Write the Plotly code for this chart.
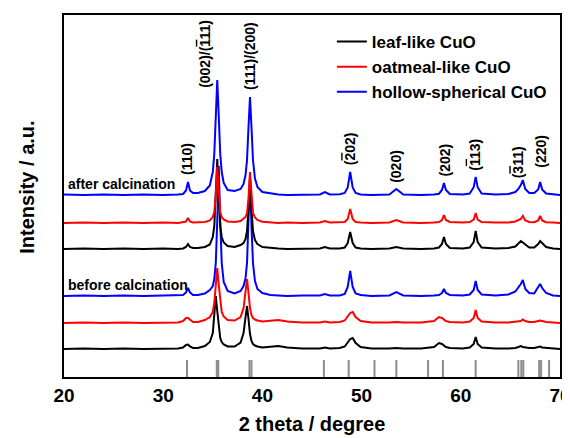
import plotly.graph_objects as go

# 2-theta sampling points (degrees)
two_theta = [20, 22, 24, 26, 28, 30, 31.5, 32.0, 32.3, 32.5, 32.7, 33.0, 33.5, 34.2, 34.7, 35.0, 35.15, 35.3, 35.45, 35.6,
             35.75, 35.9, 36.1, 36.5, 37.2, 37.8, 38.1, 38.3, 38.45, 38.6, 38.75, 38.9, 39.05, 39.25, 39.5, 40.0, 40.8, 41.6, 42.5, 44.0,
             45.8, 46.3, 46.8, 47.8, 48.3, 48.6, 48.85, 49.1, 49.4, 49.9, 51.0, 52.8, 53.5, 54.2, 56.0, 57.3, 57.8, 58.1, 58.3, 58.5,
             58.9, 60.2, 60.9, 61.3, 61.5, 61.7, 62.1, 63.5, 64.8, 65.5, 65.8, 66.05, 66.25, 66.5, 66.9, 67.4, 67.8, 68.0, 68.2, 68.6,
             69.3, 70.0]

# relative intensities (a.u.)
leaf_before = [0, 0.5, 0, 0.5, 0, 0.5, 0.5, 1.5, 4, 4.5, 2.5, 1, 1, 3, 7, 16, 32, 53, 38, 20,
               11, 7, 4.5, 2.5, 2.5, 6.5, 16, 32, 43, 30, 15, 8, 5, 3.5, 2.5, 1.5, 2, 3, 1.5, 0.5,
               0.5, 1.5, 0.5, 1, 2.5, 6, 10, 11, 6, 2, 0.5, 0.5, 1, 0.5, 0.5, 2, 6, 5, 3.5, 2,
               1, 0.5, 1.5, 5, 12, 5, 1.5, 0.5, 0.5, 1, 2, 3, 2, 1.5, 1, 1, 2, 2.5, 1.5, 1,
               0.5, 0]
oatmeal_before = [0, 0.5, 0, 0.5, 0, 0.5, 0.5, 2, 5, 5, 3, 1, 1, 3, 6, 11, 20, 38, 55, 38,
                  20, 11, 6.5, 3, 2.5, 6, 15, 30, 44, 30, 15, 8, 5, 3.5, 2.5, 1.5, 2, 3, 1.5, 0.5,
                  0.5, 1.5, 0.5, 1, 2.5, 6, 10, 11, 6, 2, 0.5, 0.5, 1, 0.5, 0.5, 2, 6, 5, 3.5, 2,
                  1, 0.5, 1.5, 5, 13, 5, 1.5, 0.5, 0.5, 1, 1.5, 2, 3.5, 2, 1, 1, 2, 2.5, 2, 1,
                  0.5, 0]
hollow_before = [0, 0.5, 0, 0.5, 0, 0.5, 0.5, 1, 3.5, 8, 3.5, 1, 1, 2.5, 6, 10, 17, 33, 75, 130,
                 75, 33, 14, 5, 2.5, 5, 10, 18, 33, 70, 120, 70, 33, 15, 7, 3, 1, 0.5, 0, 0.5,
                 0.5, 2, 0.5, 0.5, 2, 9, 25, 9, 2.5, 1, 0, 0.5, 4, 0.5, 0, 0.5, 1, 3, 7, 3,
                 1, 0.5, 1.5, 6, 15, 6, 1.5, 0.5, 1.5, 4.5, 8, 12, 16, 7, 3, 2.5, 9, 12, 8, 3,
                 0.5, 0]
leaf_after = [0, 0.5, 0, 0.5, 0, 0.5, 0, 0.5, 2, 5, 2, 1, 1, 2, 4.5, 12, 22.5, 52, 90, 52,
              22.5, 12, 6.5, 3, 2, 4, 6, 10, 18, 40, 70, 40, 18, 9, 5, 2, 1, 0.5, 0, 0.5,
              0.5, 2, 0.5, 0.5, 1.5, 6, 17, 6, 1.5, 0.5, 0, 0.5, 2, 0.5, 0, 0.5, 1.5, 5, 12, 5,
              1, 0.5, 1.5, 7, 18, 7, 1.5, 0.5, 1, 2.5, 5, 8, 6.5, 4.5, 1.5, 1.5, 5, 8, 6, 2,
              0.5, 0]
oatmeal_after = [0, 0.5, 0, 0.5, 0, 0.5, 0, 0.5, 1.5, 5, 1.5, 0.5, 0.5, 1, 2.5, 6, 11, 28, 56, 28,
                 11, 6, 3.5, 1.5, 1, 2, 4, 6, 10, 25, 51, 25, 10, 5.5, 3, 1.2, 0.5, 0, 0.5, 0,
                 0.5, 2, 0.5, 0.5, 1, 4, 14, 4, 1, 0.5, 0, 0.5, 3, 0.5, 0, 0.5, 1, 3, 8, 3,
                 1, 0.5, 1, 3.5, 10, 3.5, 1, 0.5, 0.5, 1.5, 2.5, 4, 7, 2.5, 1, 0.8, 2.5, 7, 2.5, 0.8,
                 0.5, 0]
hollow_after = [0.5, 0, 0.5, 0, 0.5, 0, 0.5, 1, 4.5, 13, 4.5, 2, 2, 4, 9.5, 23, 41, 79, 115, 79,
                41, 23, 12, 5, 4, 6, 11, 20, 35, 68, 98, 68, 35, 16.5, 8, 3, 1.5, 0.5, 0, 0.5,
                0.5, 3, 0.5, 0.7, 2, 7.6, 23, 7.6, 2, 0.6, 0, 0.5, 6, 0.5, 0, 0.5, 1.3, 5, 12, 5,
                1, 0.5, 1.5, 7.8, 18, 7.8, 1.5, 0.5, 1, 3, 6, 10, 15, 6, 2, 2, 5.5, 13, 5.5, 1.5,
                0.5, 0]

# stacking offsets
offsets = {"leaf_before": 28, "oatmeal_before": 54, "hollow_before": 81,
           "leaf_after": 128, "oatmeal_after": 154, "hollow_after": 182}

# CuO reference pattern (JCPDS 48-1548) stick positions
ref_positions = [32.4, 35.4, 35.55, 38.7, 38.9, 46.2, 48.7, 51.3, 53.5, 56.7, 58.2, 61.5,
                 65.8, 66.1, 66.3, 67.9, 68.1, 68.9]
ref_height = 17

OL = '<span style="text-decoration:overline">{}</span>'
# Miller index labels: (text, 2theta, bottom of label)
hkl_labels = [("(110)", 32.4, 200), ("(002)/(" + OL.format("1") + "11)", 34.2, 287), ("(111)/(200)", 38.75, 285),
              ("(" + OL.format("2") + "02)", 48.8, 210), ("(020)", 53.4, 192), ("(202)", 58.4, 199),
              ("(" + OL.format("1") + "13)", 61.4, 204), ("(" + OL.format("3") + "11)", 65.8, 197), ("(220)", 68.0, 207)]

series = [
    ("leaf-like CuO", leaf_before, "leaf_before", "#000000", True),
    ("oatmeal-like CuO", oatmeal_before, "oatmeal_before", "#ff0000", True),
    ("hollow-spherical CuO", hollow_before, "hollow_before", "#0000ff", True),
    ("leaf-like CuO", leaf_after, "leaf_after", "#000000", False),
    ("oatmeal-like CuO", oatmeal_after, "oatmeal_after", "#ff0000", False),
    ("hollow-spherical CuO", hollow_after, "hollow_after", "#0000ff", False),
]

FONT = "Liberation Sans, Arial, sans-serif"
fig = go.Figure()

# reference sticks
sx, sy = [], []
for p in ref_positions:
    sx += [p, p, None]
    sy += [0, ref_height, None]
fig.add_trace(go.Scatter(x=sx, y=sy, mode="lines", line=dict(color="#8c8c8c", width=2),
                         showlegend=False, hoverinfo="skip"))

for name, vals, key, color, show in series:
    fig.add_trace(go.Scatter(x=two_theta, y=[v + offsets[key] for v in vals], mode="lines",
                             name=name, legendgroup=name, showlegend=show,
                             line=dict(color=color, width=2)))

annotations = []
for text, xpos, ybot in hkl_labels:
    annotations.append(dict(x=xpos, y=ybot, xref="x", yref="y", text=text, textangle=-90,
                            showarrow=False, xanchor="center", yanchor="bottom",
                            font=dict(family=FONT, size=14, color="black", weight="bold")))
annotations.append(dict(x=20.2, y=offsets["hollow_after"] + 11, xref="x", yref="y", text="after calcination",
                        showarrow=False, xanchor="left", yanchor="middle",
                        font=dict(family=FONT, size=14, color="black", weight="bold")))
annotations.append(dict(x=20.2, y=offsets["hollow_before"] + 11, xref="x", yref="y", text="before calcination",
                        showarrow=False, xanchor="left", yanchor="middle",
                        font=dict(family=FONT, size=14, color="black", weight="bold")))
annotations.append(dict(x=-0.075, y=0.525, xref="paper", yref="paper", text="Intensity / a.u.", textangle=-90,
                        showarrow=False, xanchor="center", yanchor="middle",
                        font=dict(family=FONT, size=20, color="black", weight="bold")))

# the page body adds an 8px offset, so the figure is 8px smaller with margins reduced accordingly
fig.update_layout(
    width=562, height=430,
    margin=dict(l=56, r=10, t=7, b=61, autoexpand=False),
    paper_bgcolor="white", plot_bgcolor="white",
    showlegend=True,
    legend=dict(x=0.54, y=0.975, xanchor="left", yanchor="top", bgcolor="rgba(0,0,0,0)",
                font=dict(family=FONT, size=17, color="black", weight="bold"),
                tracegroupgap=0),
    annotations=annotations,
)
fig.update_xaxes(range=[20, 70], tickvals=[20, 30, 40, 50, 60, 70], ticks="", ticklen=0, automargin=False,
                 ticklabeloverflow="allow",
                 showline=True, linecolor="black", linewidth=2, mirror=True, showgrid=False, zeroline=False,
                 tickfont=dict(family=FONT, size=19, color="black", weight="bold"),
                 title=dict(text="2 theta / degree", standoff=12,
                            font=dict(family=FONT, size=20, color="black", weight="bold")))
fig.update_yaxes(range=[0, 362], showticklabels=False, ticks="", automargin=False,
                 showline=True, linecolor="black", linewidth=2, mirror=True, showgrid=False, zeroline=False)

fig.write_html("out.html")
